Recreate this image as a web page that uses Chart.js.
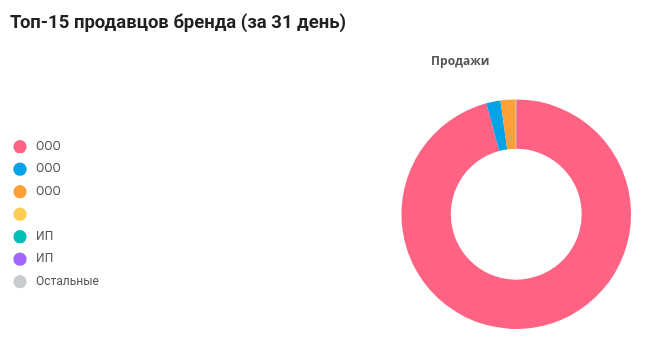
<!DOCTYPE html>
<html lang="ru">
<head>
<meta charset="utf-8">
<title>Топ-15 продавцов бренда</title>
<script src="https://cdn.jsdelivr.net/npm/chart.js@4.4.1/dist/chart.umd.min.js"></script>
<style>
    html, body { margin: 0; padding: 0; background: #fff; }
    .wrap { position: relative; width: 649px; height: 340px; }
    .wrap canvas { position: absolute; left: 0; top: 0; }
    .wrap h1 {
        position: absolute; left: 10px; top: 11px; margin: 0;
        font: bold 18.5px/22px Roboto, sans-serif; color: #212121;
    }
</style>
</head>
<body>
<div class="wrap">
    <canvas id="salesChart" width="649" height="340"></canvas>
    <h1>Топ-15 продавцов бренда (за 31 день)</h1>
</div>
<script>
// Data
const sellers = ['ООО', 'ООО', 'ООО', '', 'ИП', 'ИП', 'Остальные'];
const salesShare = [95.8, 2.0, 2.1, 0.04, 0.03, 0.02, 0.01];
const sliceColors = ['#ff6384', '#04a3e8', '#ff9f38', '#ffcd56', '#00c0b6', '#a267ff', '#c9cbcf'];

// legend column is wide, the doughnut sits in the right part
const LEGEND_WIDTH = 380;
const TITLE_SHIFT = 56;

const layoutTweaks = {
    id: 'layoutTweaks',
    beforeInit(chart) {
        const legend = chart.legend;
        const fit = legend.fit;
        legend.fit = function () {
            fit.call(this);
            this.width = LEGEND_WIDTH;
        };
    },
    afterLayout(chart) {
        // title "Продажи" is a bit left of the ring centre
        chart.titleBlock.left -= TITLE_SHIFT;
        chart.titleBlock.right -= TITLE_SHIFT;
    }
};

document.addEventListener('DOMContentLoaded', () => {
    const ctx = document.getElementById('salesChart');
    const baseLabels = Chart.overrides.doughnut.plugins.legend.labels.generateLabels;

    new Chart(ctx, {
        type: 'doughnut',
        data: {
            labels: sellers,
            datasets: [{
                label: 'Продажи',
                data: salesShare,
                backgroundColor: sliceColors,
                borderWidth: 0
            }]
        },
        options: {
            responsive: false,
            animation: false,
            cutout: '57%',
            layout: {
                padding: { left: 3.5, right: 0, top: 0, bottom: 11 }
            },
            plugins: {
                title: {
                    display: true,
                    text: 'Продажи',
                    fullSize: false,
                    color: '#555',
                    font: { family: "'Open Sans'", size: 12, weight: 'bold' },
                    padding: { top: 54, bottom: 31 }
                },
                legend: {
                    position: 'left',
                    fullSize: false,
                    labels: {
                        usePointStyle: true,
                        pointStyle: 'circle',
                        boxWidth: 12,
                        boxHeight: 9.4,
                        padding: 10.5,
                        color: '#555',
                        font: { family: 'Roboto', size: 12 },
                        generateLabels: chart => baseLabels(chart).map(item => ({
                            ...item,
                            text: '\u2004' + item.text
                        }))
                    }
                },
                tooltip: { enabled: false }
            }
        },
        plugins: [layoutTweaks]
    });
});
</script>
</body>
</html>
